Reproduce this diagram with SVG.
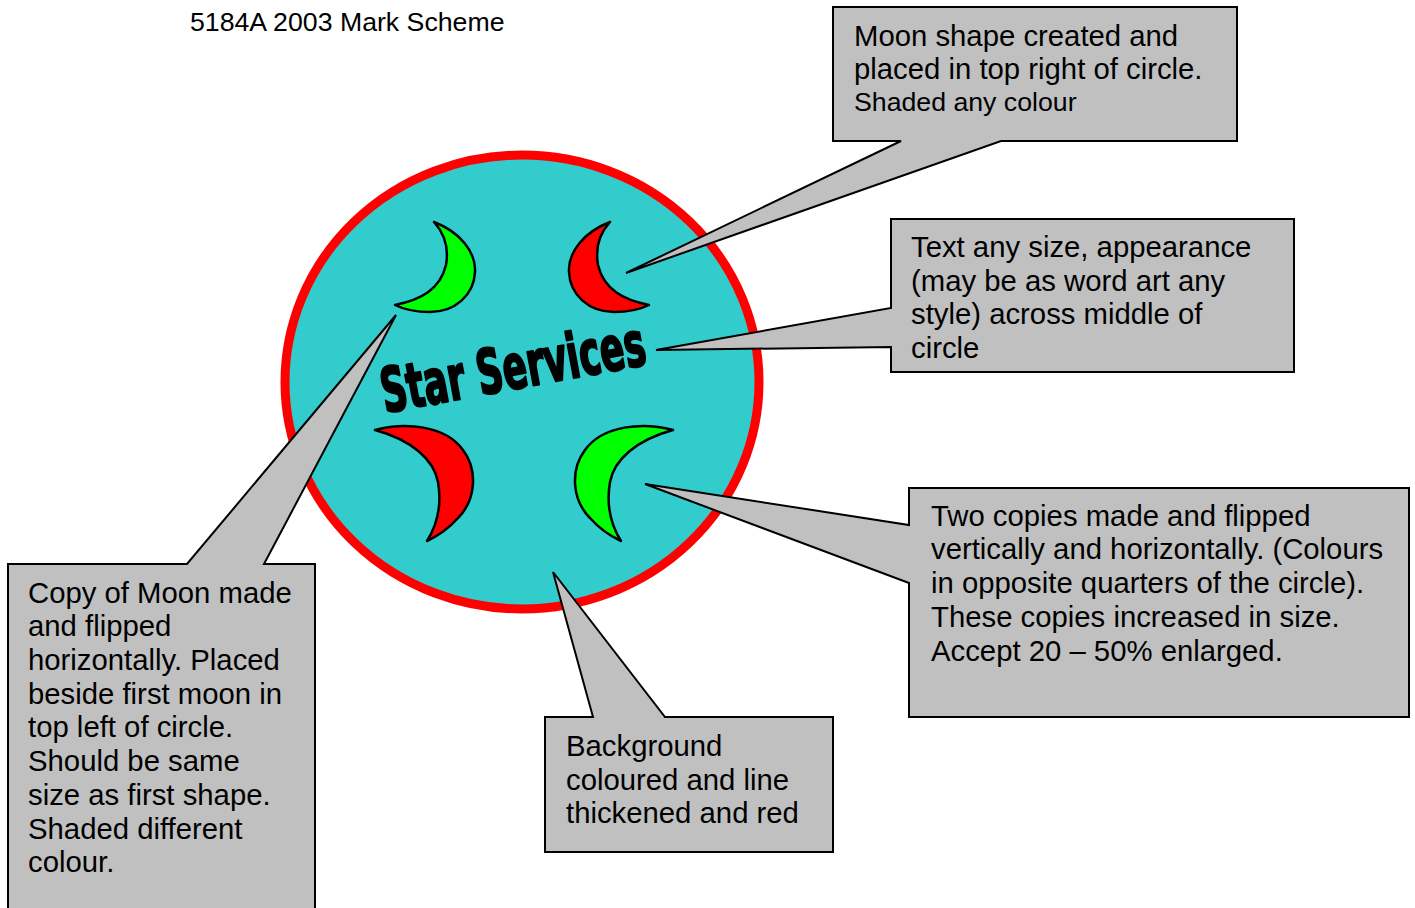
<svg xmlns="http://www.w3.org/2000/svg" width="1415" height="908" viewBox="0 0 1415 908">
<style>
.t{font-family:"Liberation Sans",Arial,sans-serif;font-size:29.3px;fill:#000}
.s{font-size:26.7px}
.call{fill:#c0c0c0;stroke:#000;stroke-width:2;stroke-linejoin:miter}
.moon{stroke:#000;stroke-width:2.5;stroke-linejoin:round}
.g{fill:#00ff00}
.r{fill:#ff0000}
</style>
<rect width="1415" height="908" fill="#fff"/>
<text class="t s" x="190" y="31">5184A 2003 Mark Scheme</text>
<g id="circle">
<ellipse cx="522" cy="382" rx="237" ry="227" fill="#33cccc" stroke="#ff0000" stroke-width="9"/>
</g>
<defs>
<path id="moonA" d="M434,222 C460,232 476,252 475,272 C474,295 455,312 430,312 C415,312 403,309 395,305 C420,300 440,290 446,265 C449,248 444,233 434,222 Z"/>
<path id="moonB" d="M375,430 C405,422 445,425 463,450 C478,470 476,500 458,518 C450,527 440,535 427,541 C437,525 442,505 438,482 C434,460 412,440 375,430 Z"/>
</defs>
<g id="moon-tl">
<use href="#moonA" class="moon g"/>
</g>
<g id="moon-tr">
<use href="#moonA" class="moon r" transform="matrix(-1,0,0,1,1044,0)"/>
</g>
<g id="moon-bl">
<use href="#moonB" class="moon r"/>
</g>
<g id="moon-br">
<use href="#moonB" class="moon g" transform="matrix(-1,0,0,1,1048,0)"/>
</g>
<g id="wordart">
<text x="0" y="0" transform="translate(385,413) rotate(-10.5)" font-family="'Liberation Sans Narrow','DejaVu Sans Condensed','Liberation Sans',sans-serif" font-weight="bold" font-size="62" fill="#000" stroke="#000" stroke-width="2.2" stroke-linejoin="round" textLength="268" lengthAdjust="spacingAndGlyphs">Star Services</text>
</g>
<g id="callout-moon">
<path class="call" d="M833,7 H1237 V141 H1001 L626,273 L901,141 H833 Z"/>
<text class="t" x="854" y="46">Moon shape created and</text>
<text class="t" x="854" y="79">placed in top right of circle.</text>
<text class="t s" x="854" y="111">Shaded any colour</text>
</g>
<g id="callout-text">
<path class="call" d="M891,219 H1294 V372 H891 V347 L656,350 L891,308 Z"/>
<text class="t" x="911" y="257">Text any size, appearance</text>
<text class="t" x="911" y="291">(may be as word art any</text>
<text class="t" x="911" y="324">style) across middle of</text>
<text class="t" x="911" y="358">circle</text>
</g>
<g id="callout-copies">
<path class="call" d="M909,488 H1409 V717 H909 V583 L645,484 L909,525 Z"/>
<text class="t" x="931" y="526">Two copies made and flipped</text>
<text class="t" x="931" y="559">vertically and horizontally. (Colours</text>
<text class="t" x="931" y="593">in opposite quarters of the circle).</text>
<text class="t" x="931" y="627">These copies increased in size.</text>
<text class="t" x="931" y="661">Accept 20 – 50% enlarged.</text>
</g>
<g id="callout-background">
<path class="call" d="M545,717 H593 L553,572 L665,717 H833 V852 H545 Z"/>
<text class="t" x="566" y="756">Background</text>
<text class="t" x="566" y="790">coloured and line</text>
<text class="t" x="566" y="823">thickened and red</text>
</g>
<g id="callout-copy">
<path class="call" d="M8,564 H187 L396,315 L264,564 H315 V915 H8 Z"/>
<text class="t" x="28" y="603">Copy of Moon made</text>
<text class="t" x="28" y="636">and flipped</text>
<text class="t" x="28" y="670">horizontally. Placed</text>
<text class="t" x="28" y="704">beside first moon in</text>
<text class="t" x="28" y="737">top left of circle.</text>
<text class="t" x="28" y="771">Should be same</text>
<text class="t" x="28" y="805">size as first shape.</text>
<text class="t" x="28" y="839">Shaded different</text>
<text class="t" x="28" y="872">colour.</text>
</g>
<g id="connectors"></g>
</svg>
